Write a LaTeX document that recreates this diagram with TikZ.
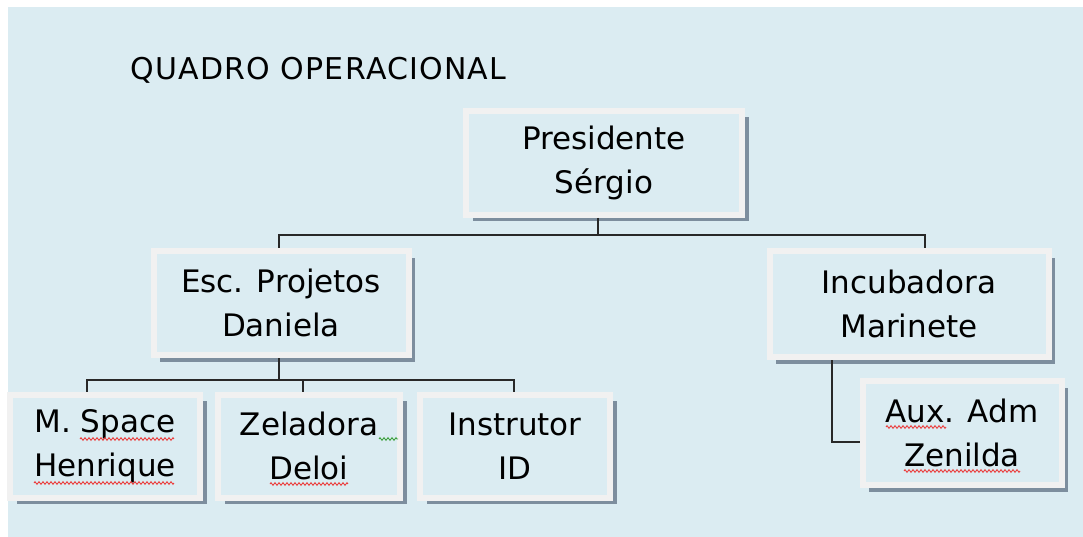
\documentclass[tikz,border=0pt]{standalone}
\usepackage{fontspec}
\setmainfont{DejaVu Sans}
\usetikzlibrary{shadows, decorations.pathmorphing}

\definecolor{panelblue}{RGB}{219,236,242}
\definecolor{framewhite}{RGB}{241,241,241}
\definecolor{shadowgray}{RGB}{125,142,158}
\definecolor{linkgray}{RGB}{40,40,40}
\definecolor{spellred}{RGB}{235,60,60}
\definecolor{spellgreen}{RGB}{60,160,60}

\begin{document}
\begin{tikzpicture}[
        x=1pt, y=-1pt,
        unit/.style={rectangle, draw=framewhite, line width=6pt, fill=panelblue,
            align=center, inner sep=0pt, font=\fontsize{31}{44}\selectfont,
            drop shadow={shadow xshift=6.5pt, shadow yshift=-6.5pt, opacity=1, fill=shadowgray}},
        link/.style={draw=linkgray, line width=1.4pt},
        squiggle/.style={line width=0.9pt, decorate,
            decoration={zigzag, amplitude=1.3pt, segment length=4pt}}
    ]
        % Panel
        \useasboundingbox (0,0) rectangle (1083,537);
        \fill[panelblue] (8,7) rectangle (1083,537);

        \node[anchor=base west, font=\fontsize{30}{36}\selectfont\addfontfeature{LetterSpace=4}] (title) at (127,80) {QUADRO OPERACIONAL};

        % Units
        \node[unit, minimum width=276pt, minimum height=104pt] (pres) at (604,163) {Presidente\\Sérgio};
        \node[unit, minimum width=255pt, minimum height=104pt] (esc) at (281,303) {Esc. Projetos\\Daniela};
        \node[unit, minimum width=279pt, minimum height=106pt] (inc) at (909,304) {Incubadora\\Marinete};
        \node[unit, minimum width=199pt, minimum height=104pt] (aux) at (962,433) {Aux. Adm\\Zenilda};
        \node[unit, minimum width=190pt, minimum height=103pt] (msp) at (105,446) {M. Space\\Henrique};
        \node[unit, minimum width=182pt, minimum height=103pt] (zel) at (309,446) {Zeladora\\Deloi};
        \node[unit, minimum width=190pt, minimum height=103pt] (ins) at (515,446) {Instrutor\\ID};

        % Connectors
        \draw[link] ([xshift=-6pt]pres.south) -- ++(0,17) coordinate (bar1);
        \draw[link] (bar1) -| ([xshift=-2pt]esc.north);
        \draw[link] (bar1) -| ([xshift=16pt]inc.north);
        \draw[link] ([xshift=-2pt]esc.south) -- ++(0,22) coordinate (bar2);
        \foreach \n/\dx in {msp/-18, zel/-6, ins/-1}
            \draw[link] (bar2) -| ([xshift=\dx pt]\n.north);
        \draw[link] ([xshift=-77pt]inc.south) |- ([yshift=-9pt]aux.west);

        % Spell-check marks
        \draw[squiggle, spellred] (80,439) -- (174,439);
        \draw[squiggle, spellred] (34,483) -- (174,483);
        \draw[squiggle, spellred] (270,484) -- (348,484);
        \draw[squiggle, spellgreen] (379,439) -- (398,439);
        \draw[squiggle, spellred] (886,427) -- (946,427);
        \draw[squiggle, spellred] (904,471) -- (1020,471);
    \end{tikzpicture}
\end{document}
